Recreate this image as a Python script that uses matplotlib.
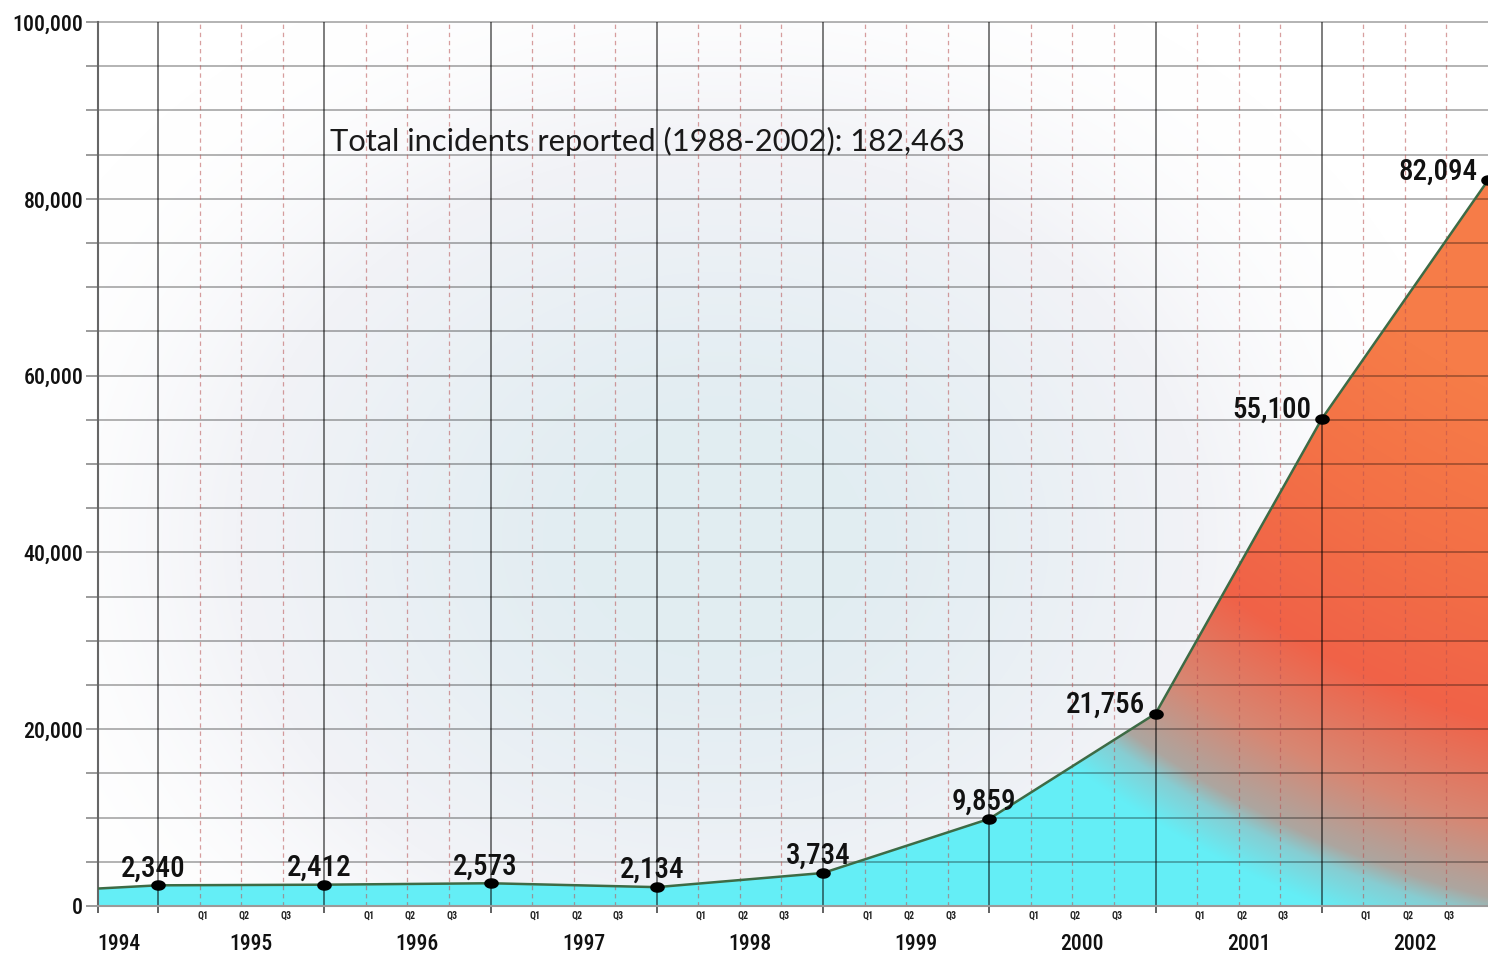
import numpy as np
import matplotlib
matplotlib.use("Agg")
import matplotlib.pyplot as plt
from matplotlib import font_manager
from matplotlib.font_manager import FontProperties
from matplotlib.path import Path
from matplotlib.patches import Polygon
from matplotlib.textpath import TextPath

# ---- data -------------------------------------------------------------
years = [1993, 1994, 1995, 1996, 1997, 1998, 1999, 2000, 2001, 2002]
incidents = [1334, 2340, 2412, 2573, 2134, 3734, 9859, 21756, 55100, 82094]
labeled_years = [1994, 1995, 1996, 1997, 1998, 1999, 2000, 2001, 2002]
year_labels = ["1994", "1995", "1996", "1997", "1998", "1999", "2000", "2001", "2002"]
quarter_labels = ["Q1", "Q2", "Q3"]
y_label_values = [0, 20000, 40000, 60000, 80000, 100000]
total_text = "Total incidents reported (1988-2002): 182,463"


# ---- fonts ------------------------------------------------------------
def _weight_num(w):
    if isinstance(w, (int, float)):
        return int(w)
    return font_manager.weight_dict.get(str(w).lower(), 400)


def pick_narrow_font(target_weight=400):
    fonts = font_manager.fontManager.ttflist
    narrow_stretch = ("condensed", "semi-condensed", "extra-condensed")
    prefs = ["Roboto Condensed", "Liberation Sans Narrow", "Noto Sans", "Open Sans",
             "DejaVu Sans", "Roboto", "Inter", "Lato"]
    for name in prefs:
        faces = [f for f in fonts
                 if f.name.startswith(name) and f.style == "normal"
                 and (f.stretch in narrow_stretch or "Condensed" in f.name
                      or "Narrow" in f.name or "Condensed" in f.fname)]
        if faces:
            best = min(faces, key=lambda f: abs(_weight_num(f.weight) - target_weight))
            return FontProperties(fname=best.fname)
    return FontProperties(family="DejaVu Sans")


narrow_prop = pick_narrow_font(500)
narrow_bold = pick_narrow_font(700)
available = {f.name for f in font_manager.fontManager.ttflist}
title_family = "Lato" if "Lato" in available else "DejaVu Sans"


def fit_size(text, prop, width_px):
    """Point size at which `text` spans width_px pixels at 100 dpi."""
    w = TextPath((0, 0), text, size=100, prop=prop).get_extents().width
    return width_px / (w / 100 * 100 / 72)


def with_size(prop, size):
    p = prop.copy()
    p.set_size(size)
    return p


value_size = fit_size("2,340", narrow_prop, 62)
ytick_size = fit_size("40,000", narrow_prop, 58)
year_size = fit_size("1994", narrow_prop, 41)
quarter_size = fit_size("Q1", narrow_bold, 9)
title_size = fit_size(total_text, FontProperties(family=title_family), 633)

W_PX, H_PX = 1488, 958
L, R, T, B = 98, 1488, 22, 906          # plot box in pixels
fig = plt.figure(figsize=(W_PX / 100, H_PX / 100), dpi=100)
ax = fig.add_axes([L / W_PX, (H_PX - B) / H_PX, (R - L) / W_PX, (B - T) / H_PX])

# each year's count sits at the end of that year
xs = np.array(years, dtype=float) + 1.0
ys = np.array(incidents, dtype=float)
px_per_year = 166.25
x0 = 1995 + (L - 158) / px_per_year
x1 = 2003.0
ax.set_xlim(x0, x1)
ax.set_ylim(0, 100000)

# ---- pixel grids for background glow and fill gradient ----------------
Wi, Hi = R - L, B - T
PX, PY = np.meshgrid(L + np.arange(Wi) + 0.5, T + np.arange(Hi) + 0.5)

r = np.sqrt(((PX - 720) / 760) ** 2 + ((PY - 540) / 620) ** 2)
w = np.clip(1 - r, 0, 1)
w = w * w * (3 - 2 * w)
edge = np.array([1.0, 1.0, 1.0])
mid = np.array([242, 243, 247]) / 255
core = np.array([226, 237, 242]) / 255
w1 = np.clip(w / 0.3, 0, 1)[..., None]
w2 = np.clip((w - 0.3) / 0.6, 0, 1)[..., None]
bg = edge * (1 - w1) + mid * w1
bg = bg * (1 - w2) + core * w2
ax.imshow(bg, extent=(x0, x1, 0, 100000), origin="upper", aspect="auto",
          zorder=0, interpolation="bilinear")

# radial ramp centred beyond the upper-right corner: cyan -> grey -> red -> orange
dist = np.hypot(PX - 1750, PY + 150)
s = np.hypot(1150 - 1750, 747 + 150) - dist
stops = [-60, -20, 0, 70, 170, 320, 480]
stop_colors = np.array([
    [100, 238, 246],
    [135, 205, 210],
    [172, 166, 160],
    [215, 135, 115],
    [240, 98, 72],
    [243, 112, 70],
    [246, 124, 72],
]) / 255
grad = np.stack([np.interp(s, stops, stop_colors[:, c]) for c in range(3)], axis=-1)
img = ax.imshow(grad, extent=(x0, x1, 0, 100000), origin="upper", aspect="auto",
                zorder=1, interpolation="bilinear")
area = Polygon(np.vstack([[xs[0], 0], np.column_stack([xs, ys]), [xs[-1], 0]]),
               closed=True, facecolor="none", edgecolor="none")
ax.add_patch(area)
img.set_clip_path(area)

# ---- grid -------------------------------------------------------------
for v in range(5000, 100001, 5000):
    ax.axhline(v, color="black", alpha=0.35, lw=1.2, zorder=3, clip_on=False)
for yr in range(1995, 2003):
    for q in (0.25, 0.5, 0.75):
        ax.axvline(yr + q, color="#b85050", alpha=0.55, lw=0.9,
                   linestyle=(0, (3.5, 3)), zorder=3)
for yr in range(1995, 2003):
    ax.axvline(yr, color="black", alpha=0.55, lw=1.3, zorder=3)

# ---- series -----------------------------------------------------------
ax.plot(xs, ys, color="#3d6b45", lw=1.8, zorder=5, solid_joinstyle="round")
theta = np.linspace(0, 2 * np.pi, 60)
ellipse = Path(np.column_stack([1.45 * np.cos(theta), np.sin(theta)]), closed=True)
dot_x = np.array(labeled_years, dtype=float) + 1.0
dot_y = ys[1:]
ax.plot(dot_x, dot_y, linestyle="none", marker=ellipse, markersize=9.5,
        color="black", zorder=6)

value_prop = with_size(narrow_prop, value_size)
for yr, xv, yv in zip(labeled_years, dot_x, dot_y):
    if yr < 2000:
        ax.annotate(f"{int(yv):,}", (xv, yv), xytext=(-5, 9), textcoords="offset pixels",
                    ha="center", va="baseline", fontproperties=value_prop,
                    color="#111111", zorder=7)
    else:
        ax.annotate(f"{int(yv):,}", (xv, yv), xytext=(-10, 1), textcoords="offset pixels",
                    ha="right", va="baseline", fontproperties=value_prop,
                    color="#111111", zorder=7)

# ---- axes decoration --------------------------------------------------
for side in ("top", "right"):
    ax.spines[side].set_visible(False)
ax.spines["left"].set_color("#666666")
ax.spines["left"].set_linewidth(1.5)
ax.spines["bottom"].set_color("#9a9a9a")
ax.spines["bottom"].set_linewidth(1.5)
for sp in ax.spines.values():
    sp.set_zorder(4)

yt = list(range(0, 100001, 5000))
ax.set_yticks(yt)
ax.set_yticklabels([f"{v:,}" if v in y_label_values else "" for v in yt],
                   fontproperties=with_size(narrow_prop, ytick_size))
ax.tick_params(axis="y", length=8.6, width=1.2, color="#8a8a8a", pad=2,
               labelcolor="#111111")

ax.set_xticks([x0] + list(range(1995, 2003)))
ax.set_xticklabels([])
ax.tick_params(axis="x", length=5, width=1.3, color="#555555")

year_prop = with_size(narrow_prop, year_size)
for i, lab in enumerate(year_labels):
    yr = labeled_years[i]
    pos = max(yr + 0.56, x0 + 0.125)
    ax.annotate(lab, (pos, 0), xycoords=("data", "axes fraction"), xytext=(0, -38),
                textcoords="offset pixels", ha="center", va="center",
                fontproperties=year_prop, color="#111111", annotation_clip=False)
q_prop = with_size(narrow_bold, quarter_size)
for yr in range(1995, 2003):
    for k, q in enumerate((0.25, 0.5, 0.75)):
        ax.annotate(quarter_labels[k], (yr + q, 0), xycoords=("data", "axes fraction"),
                    xytext=(3, -10), textcoords="offset pixels", ha="center", va="center",
                    fontproperties=q_prop, color="#222222", annotation_clip=False)

fig.text(330 / W_PX, 1 - 151 / H_PX, total_text, family=title_family, fontsize=title_size,
         color="#1a1a1a", ha="left", va="baseline")

fig.savefig("out.png", dpi=100, facecolor="white")
